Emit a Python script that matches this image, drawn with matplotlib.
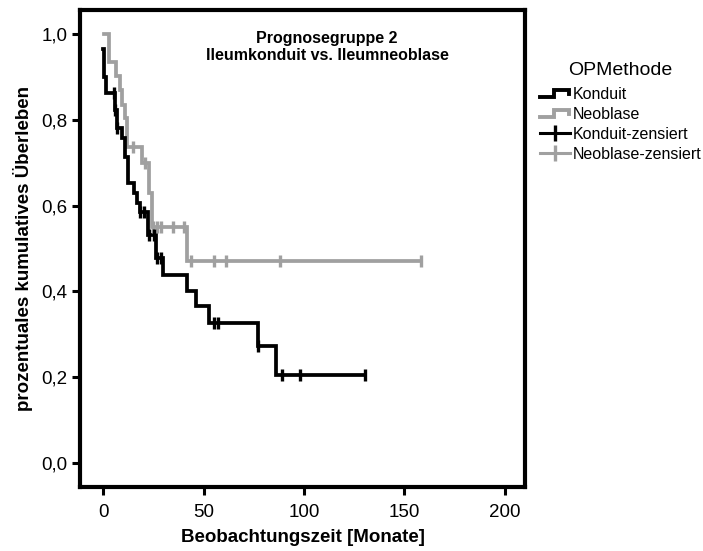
import numpy as np
import matplotlib
matplotlib.use("Agg")
import matplotlib.pyplot as plt
from matplotlib.lines import Line2D
from matplotlib.legend_handler import HandlerBase
from matplotlib.ticker import FuncFormatter

plt.rcParams['font.family'] = ['Liberation Sans', 'DejaVu Sans']

# ---------------- data ----------------
groups = ["Konduit", "Neoblase"]

konduit_start = (0.0, 0.964)
konduit_event_t = [0.4, 1.6, 5.7, 7.0, 9.2, 11.0, 12.3, 15.6, 16.8, 18.2,
                   22.3, 26.4, 29.7, 42.0, 46.0, 52.5, 77.0, 86.0]
konduit_event_s = [0.900, 0.863, 0.823, 0.781, 0.757, 0.714, 0.653, 0.629, 0.606, 0.586,
                   0.531, 0.478, 0.438, 0.402, 0.366, 0.327, 0.273, 0.205]
konduit_cens_t = [5.4, 6.0, 7.0, 18.6, 20.4, 23.0, 25.5, 26.6, 28.8,
                  55.0, 57.0, 77.0, 88.8, 97.9, 130.4]

neoblase_start = (0.3, 1.0)
neoblase_event_t = [3.0, 6.6, 8.5, 9.4, 10.7, 12.0, 19.5, 22.8, 24.3, 42.0]
neoblase_event_s = [0.935, 0.902, 0.869, 0.835, 0.804, 0.737, 0.700, 0.630, 0.550, 0.471]
neoblase_cens_t = [14.9, 21.0, 24.8, 27.0, 28.9, 34.7, 40.4,
                   43.6, 55.0, 61.0, 88.0, 158.0]

x_ticks = [0, 50, 100, 150, 200]
y_ticks = [0.0, 0.2, 0.4, 0.6, 0.8, 1.0]

title_lines = ["Prognosegruppe 2", "Ileumkonduit vs. Ileumneoblase"]
x_label = "Beobachtungszeit [Monate]"
y_label = "prozentuales kumulatives Überleben"
legend_title = "OPMethode"
legend_labels = ["Konduit", "Neoblase", "Konduit-zensiert", "Neoblase-zensiert"]

colors = {"Konduit": "#000000", "Neoblase": "#a0a0a0"}

# ---------------- figure ----------------
fig = plt.figure(figsize=(7.03, 5.51), dpi=100)
ax = fig.add_axes([80/703, 1-487/551, (525-80)/703, (487-10)/551])

def km_arrays(start, et, es, ct):
    last = max(max(et), max(ct))
    xs = [start[0]] + list(et) + [last]
    ys = [start[1]] + list(es) + [es[-1]]
    return np.array(xs), np.array(ys)

def surv_at(start, et, es, t):
    et = np.asarray(et); es = np.asarray(es)
    idx = np.searchsorted(et, t, side='right')
    vals = np.concatenate([[start[1]], es])
    return vals[idx]

series = {
    "Konduit": (konduit_start, konduit_event_t, konduit_event_s, konduit_cens_t),
    "Neoblase": (neoblase_start, neoblase_event_t, neoblase_event_s, neoblase_cens_t),
}

lw = 2.7
for name in ["Neoblase", "Konduit"]:
    st, et, es, ct = series[name]
    xs, ys = km_arrays(st, et, es, ct)
    ax.step(xs, ys, where='post', color=colors[name], lw=lw, solid_joinstyle='miter', zorder=3)
    cs = surv_at(st, et, es, np.array(ct))
    ax.plot(ct, cs, ls='none', marker='|', ms=8.5, mew=2.4, color=colors[name], zorder=4)

ax.set_xlim(-11.5, 210)
ax.set_ylim(-0.056, 1.056)
ax.set_xticks(x_ticks)
ax.set_yticks(y_ticks)
ax.yaxis.set_major_formatter(FuncFormatter(lambda v, p: f"{v:.1f}".replace('.', ',')))
for s in ax.spines.values():
    s.set_linewidth(3.0)
ax.tick_params(axis='both', direction='out', length=6, width=2.2, labelsize=13.5, pad=3)
ax.tick_params(axis='x', pad=6)

ax.set_xlabel(x_label, fontsize=13.5, fontweight='bold', labelpad=6)
ax.set_ylabel(y_label, fontsize=13.5, fontweight='bold', labelpad=6)

ax.text(0.555, 0.955, "\n".join(title_lines), transform=ax.transAxes, ha='center', va='top',
        fontsize=11.5, fontweight='bold', linespacing=1.1)

# ---------------- legend ----------------
class StepHandler(HandlerBase):
    def create_artists(self, legend, orig_handle, xdescent, ydescent, width, height, fontsize, trans):
        xs = np.array([0, 0.45, 0.45, 0.95, 0.95]) * width - xdescent
        ys = np.array([0.2, 0.2, 0.8, 0.8, 0.45]) * height - ydescent
        line = Line2D(xs, ys, color=orig_handle.get_color(), lw=orig_handle.get_linewidth(),
                      solid_joinstyle='miter')
        line.set_transform(trans)
        return [line]

class CensHandler(HandlerBase):
    def create_artists(self, legend, orig_handle, xdescent, ydescent, width, height, fontsize, trans):
        y = 0.5 * height - ydescent
        line = Line2D([-xdescent, width - xdescent], [y, y], color=orig_handle.get_color(), lw=2.2)
        mark = Line2D([0.5 * width - xdescent], [y], ls='none', marker='|', ms=11, mew=2.4,
                      color=orig_handle.get_color())
        line.set_transform(trans); mark.set_transform(trans)
        return [line, mark]

h1 = Line2D([], [], color=colors["Konduit"], lw=2.8)
h2 = Line2D([], [], color=colors["Neoblase"], lw=2.8)
h3 = Line2D([], [], color=colors["Konduit"], lw=2.2, marker='|')
h4 = Line2D([], [], color=colors["Neoblase"], lw=2.2, marker='|')
hmap = {h1: StepHandler(), h2: StepHandler(), h3: CensHandler(), h4: CensHandler()}
leg = fig.legend([h1, h2, h3, h4], legend_labels, title=legend_title, handler_map=hmap,
                 loc='upper left', bbox_to_anchor=(540/703, 1-62/551), frameon=False,
                 fontsize=11.5, title_fontsize=14, handlelength=1.9, handletextpad=0.15,
                 labelspacing=0.3, borderaxespad=0, borderpad=0)
leg._legend_box.align = "center"
leg._legend_box.sep = 6

fig.savefig("out.png", dpi=100)
